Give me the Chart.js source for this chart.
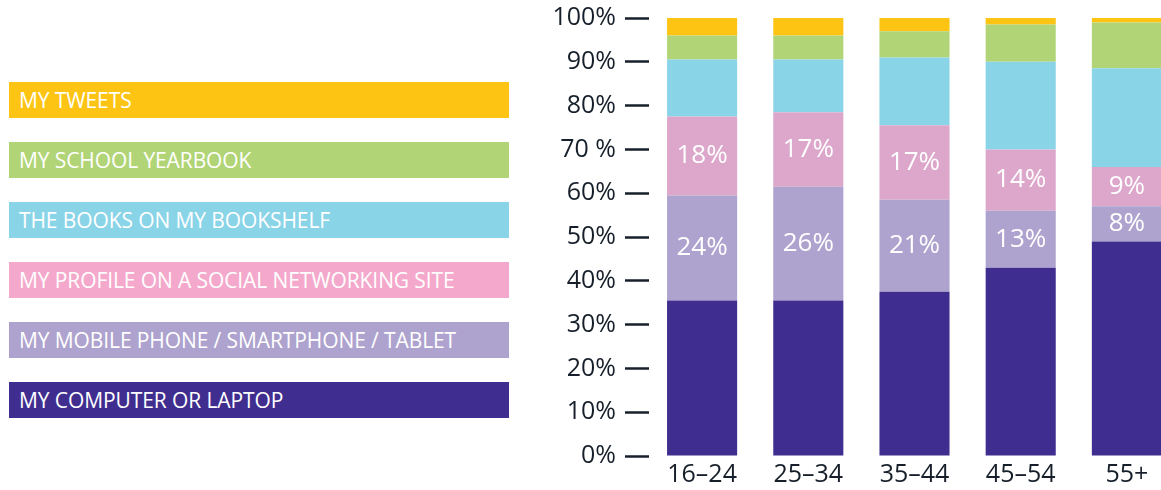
<!DOCTYPE html>
<html>
<head>
<meta charset="utf-8">
<script src="https://cdn.jsdelivr.net/npm/chart.js@4/dist/chart.umd.min.js"></script>
<style>
  html, body { margin: 0; padding: 0; background: #fff; overflow: hidden; }
  body { width: 1161px; height: 490px; position: relative; }
  #legend { position: absolute; left: 9px; top: 82px; width: 500px; }
  .key {
    height: 36px; line-height: 36px; margin-bottom: 24px;
    padding-left: 10px; color: #fff;
    font-family: "Open Sans", sans-serif; font-size: 21px;
    white-space: nowrap; letter-spacing: -0.1px;
  }
  #wrap { position: absolute; left: 540px; top: 0; width: 640px; height: 490px; }
</style>
</head>
<body>
<div id="legend"></div>
<div id="wrap"><canvas id="myChart"></canvas></div>
<script>
const ageGroups = ['16–24', '25–34', '35–44', '45–54', '55+'];

// share of respondents (%), stacked bottom to top
const computer = [35.5, 35.5, 37.5, 43, 49];
const mobile   = [24, 26, 21, 13, 8];
const profile  = [18, 17, 17, 14, 9];
const books    = [13, 12, 15.5, 20, 22.5];
const yearbook = [5.5, 5.5, 6, 8.5, 10.5];
const tweets   = [4, 4, 3, 1.5, 1];

const yTicks = [0, 10, 20, 30, 40, 50, 60, 70, 80, 90, 100];

const series = [
  { label: 'MY COMPUTER OR LAPTOP', data: computer, color: '#3f2e8f', key: '#3f2e8f' },
  { label: 'MY MOBILE PHONE / SMARTPHONE / TABLET', data: mobile, color: '#aea3ce', key: '#aea3ce', inside: true },
  { label: 'MY PROFILE ON A SOCIAL NETWORKING SITE', data: profile, color: '#dca7cb', key: '#f4a9cc', inside: true },
  { label: 'THE BOOKS ON MY BOOKSHELF', data: books, color: '#8ad4e8', key: '#8ad4e8' },
  { label: 'MY SCHOOL YEARBOOK', data: yearbook, color: '#b1d576', key: '#b1d576' },
  { label: 'MY TWEETS', data: tweets, color: '#fdc413', key: '#fdc413' }
];

// coloured key bars, top series first
const legend = document.getElementById('legend');
series.slice().reverse().forEach(s => {
  const d = document.createElement('div');
  d.className = 'key';
  d.style.background = s.key;
  d.textContent = s.label;
  legend.appendChild(d);
});

// white value labels in the middle of the marked segments
const insideLabels = {
  id: 'insideLabels',
  afterDatasetsDraw(chart) {
    const ctx = chart.ctx;
    ctx.save();
    ctx.fillStyle = '#fff';
    ctx.font = '26px "Open Sans", sans-serif';
    ctx.textAlign = 'center';
    ctx.textBaseline = 'middle';
    chart.data.datasets.forEach((ds, i) => {
      if (!series[i].inside) return;
      chart.getDatasetMeta(i).data.forEach((bar, j) => {
        ctx.fillText(ds.data[j] + '%', bar.x, (bar.y + bar.base) / 2);
      });
    });
    ctx.restore();
  }
};

new Chart(document.getElementById('myChart').getContext('2d'), {
  type: 'bar',
  data: {
    labels: ageGroups,
    datasets: series.map(s => ({
      label: s.label,
      data: s.data,
      backgroundColor: s.color,
      borderWidth: 0,
      barPercentage: 0.66,
      categoryPercentage: 1
    }))
  },
  options: {
    responsive: true,
    maintainAspectRatio: false,
    animation: false,
    layout: { padding: { top: 18, left: 0, right: 0, bottom: 0 } },
    plugins: { legend: { display: false }, tooltip: { enabled: false } },
    scales: {
      x: {
        stacked: true,
        afterFit(scale) { scale.height = 34; },
        grid: { display: false, drawTicks: false },
        border: { display: false },
        ticks: { color: '#17202a', font: { family: 'Open Sans', size: 25 }, padding: 4 }
      },
      y: {
        stacked: true,
        min: 0,
        max: 100,
        afterFit(scale) {
          scale.width = 109;
          scale.paddingTop = 0;
          scale.paddingBottom = 0;
        },
        afterBuildTicks(scale) { scale.ticks = yTicks.map(v => ({ value: v })); },
        grid: {
          drawOnChartArea: false,
          drawTicks: true,
          tickLength: 24,
          tickWidth: 2.5,
          tickColor: '#17202a'
        },
        border: { display: false },
        ticks: {
          color: '#17202a',
          font: { family: 'Open Sans', size: 25 },
          padding: 9,
          callback: v => v === 70 ? '70 %' : v + '%'
        }
      }
    }
  },
  plugins: [insideLabels]
});
</script>
</body>
</html>
